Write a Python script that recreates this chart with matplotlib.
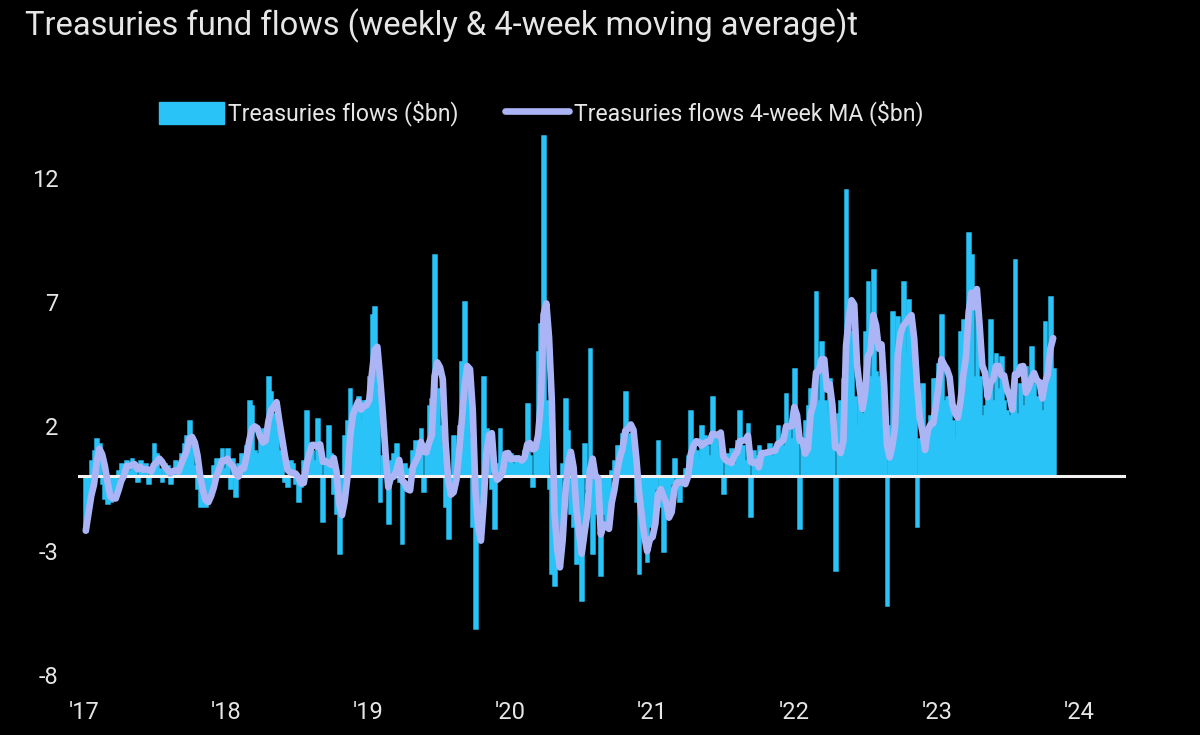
import numpy as np
import pandas as pd
import matplotlib
matplotlib.use("Agg")
import matplotlib.pyplot as plt
from matplotlib.patches import Patch
from matplotlib.lines import Line2D

plt.rcParams['font.family'] = ['Roboto', 'DejaVu Sans']

# weekly Treasuries fund flows ($bn), one list per year
flows_2017 = [-2.2, -0.8, 0.6, 1.0, 1.5, 1.3, -0.3, -0.9, -1.1, -1.0, -0.6, -0.9, 0.2,
              0.5, 0.3, 0.6, 0.2, 0.7, 0.4, -0.2, 0.6, 0.2, 0.5, -0.3, 0.3, 1.3,
              0.9, 0.3, -0.2, 0.5, 0.4, -0.3, 0.2, 0.6, 0.2, 0.9, 1.3, 1.6, 2.2,
              1.2, 0.4, -0.5, -1.2, -1.0, -1.2, -0.8, -0.2, 0.4, 0.7, 0.3, 1.1, 0.3]
flows_2018 = [1.1, -0.5, 0.7, -0.8, 0.5, 0.9, 0.6, 1.2, 3.0, 2.8, 1.0, 0.9, 1.6,
              1.9, 1.3, 4.0, 3.4, 2.5, 2.0, 1.0, 0.6, -0.2, -0.4, 0.6, 0.5, -0.3,
              -1.0, -0.4, 0.6, 2.6, 0.8, 1.0, 0.6, 2.3, 1.2, -1.8, 0.7, 2.0, 0.9,
              -0.7, -1.5, -3.1, -1.0, 1.6, 2.2, 3.5, 2.5, 2.8, 3.2, 2.2, 3.0, 3.0]
flows_2019 = [4.0, 6.5, 6.8, 3.5, -1.0, 0.8, 0.3, -1.9, 0.6, 0.9, 1.3, -0.2, -2.7,
              0.5, 0.3, -0.4, 1.0, 1.4, 1.2, 1.9, -0.6, 1.3, 2.8, 3.1, 8.9, 3.5,
              2.0, 1.2, -1.2, -2.5, -0.5, 1.6, 0.8, 2.0, 4.6, 7.0, 4.1, 1.5, -2.0,
              -6.1, -1.5, -0.8, 4.0, 1.9, 1.5, -0.5, -2.1, 0.5, 1.9, 0.4, 0.8, 0.6]
flows_2020 = [0.9, 0.5, 0.8, 0.6, 0.6, 1.0, 2.9, 0.8, -0.4, 1.2, 5.0, 6.1, 13.7,
              3.0, -0.5, -3.9, -4.4, -3.0, -3.4, 0.5, 3.1, 1.8, -1.5, -2.0, -3.5, -2.0,
              -5.0, 1.3, -0.5, 5.1, -3.1, -1.5, -0.8, -4.0, -1.5, -1.8, -1.2, 0.2, 0.6,
              1.2, 1.0, 1.7, 3.4, 1.5, 1.7, 0.8, -1.0, -3.9, -2.2, -2.6, -3.4, -2.0]
flows_2021 = [-1.8, -0.5, 1.4, -1.2, -3.0, -1.5, -1.0, -0.3, 0.7, -0.4, -1.0, -0.2, 0.3,
              0.8, 2.6, 1.2, 1.0, 0.7, 2.0, 1.6, 1.2, 0.8, 3.2, 1.5, 1.0, 1.3,
              -0.7, 0.9, 0.8, 1.1, 0.5, 1.4, 2.6, 1.2, 0.6, 2.1, -1.6, 1.0, 0.8,
              1.2, 0.7, 1.0, 0.9, 1.3, 0.8, 1.1, 2.0, 1.5, 1.2, 3.3, 2.0, 1.5]
flows_2022 = [4.3, 2.0, -2.1, 1.5, 2.2, 2.8, 3.5, 3.0, 7.4, 3.0, 5.4, 3.0, 2.5,
              3.9, 2.0, -3.8, 2.5, 3.0, 3.9, 11.5, 7.1, 5.8, 3.2, 2.0, 3.1, 2.5,
              5.8, 7.8, 4.0, 8.3, 4.2, 4.0, 4.7, 1.5, -5.2, 2.0, 6.6, 4.5, 6.4,
              5.5, 7.8, 5.0, 7.1, 6.0, 4.0, -2.0, 1.5, 3.7, 1.0, 1.2, 2.4, 3.9]
flows_2023 = [3.9, 4.5, 6.5, 3.0, 3.2, 3.2, 2.2, 1.5, 2.5, 5.8, 6.3, 4.5, 9.8,
              8.9, 4.0, 7.4, 4.0, 2.4, 2.8, 3.5, 6.3, 3.0, 4.9, 3.5, 4.8, 3.0,
              2.6, 2.4, 2.7, 8.7, 2.5, 3.7, 2.8, 4.4, 3.3, 5.2, 3.7, 3.2, 3.0,
              2.6, 6.2, 4.5, 7.2, 4.3]

years = ["'17", "'18", "'19", "'20", "'21", "'22", "'23", "'24"]
y_ticks = [12, 7, 2, -3, -8]

flows = pd.Series(flows_2017 + flows_2018 + flows_2019 + flows_2020
                  + flows_2021 + flows_2022 + flows_2023)
weeks = pd.date_range("2017-01-06", periods=len(flows), freq="7D")
flows_ma = flows.rolling(4, min_periods=1).mean()

bar_color = "#29c3f7"
ma_color = "#abb4f4"
text_color = "#e6e6e6"

fig = plt.figure(figsize=(12, 7.35), dpi=100, facecolor="black")
ax = fig.add_axes([0.065, 0.0616, 0.8733, 0.764], facecolor="black")

ax.bar(weeks, flows, width=7, color=bar_color, edgecolor=bar_color,
       linewidth=1.8, zorder=2)
ax.axhline(0, color="#f2f2f2", linewidth=2.2, zorder=3)
ax.plot(weeks, flows_ma, color=ma_color, linewidth=4.8, solid_capstyle="round",
        solid_joinstyle="round", zorder=4)

ax.set_xlim(pd.Timestamp("2016-12-17"), pd.Timestamp("2024-05-01"))
ax.set_ylim(-8.6, 14.0)
ax.set_yticks(y_ticks)
ax.set_yticklabels([str(v) for v in y_ticks])
ax.set_xticks([pd.Timestamp(f"{2017 + i}-01-01") for i in range(len(years))])
ax.set_xticklabels(years)

for s in ax.spines.values():
    s.set_visible(False)
ax.tick_params(axis="both", length=0, colors=text_color, labelsize=17)
ax.tick_params(axis="y", pad=14)
ax.tick_params(axis="x", pad=8)

fig.text(0.021, 0.988, "Treasuries fund flows (weekly & 4-week moving average)t",
         color=text_color, fontsize=23.5, va="top", ha="left")

handles = [Patch(facecolor=bar_color, edgecolor=bar_color),
           Line2D([0], [0], color=ma_color, linewidth=4.8, solid_capstyle="round")]
labels = ["Treasuries flows ($bn)", "Treasuries flows 4-week MA ($bn)"]
fig.legend(handles, labels, loc="center left", bbox_to_anchor=(0.123, 0.846),
           ncol=2, frameon=False, fontsize=16.6, labelcolor=text_color,
           borderpad=0, handlelength=2.8, handleheight=1.1, handletextpad=0.2,
           columnspacing=2.0)

fig.savefig("out.png", dpi=100, facecolor="black")
